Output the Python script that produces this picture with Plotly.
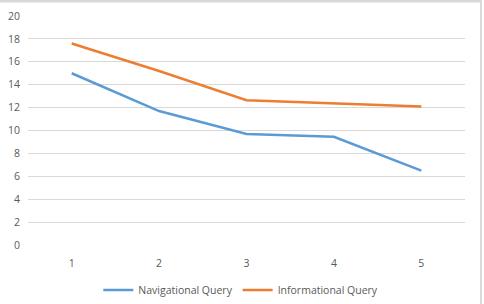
import plotly.graph_objects as go

categories = [1, 2, 3, 4, 5]
navigational = [15.0, 11.7, 9.7, 9.45, 6.5]
informational = [17.6, 15.2, 12.65, 12.35, 12.1]
y_ticks = [0, 2, 4, 6, 8, 10, 12, 14, 16, 18, 20]

fig = go.Figure()
fig.add_trace(go.Scatter(x=categories, y=navigational, mode="lines", name="Navigational Query",
                         line=dict(color="#5B9BD5", width=2.5)))
fig.add_trace(go.Scatter(x=categories, y=informational, mode="lines", name="Informational Query",
                         line=dict(color="#ED7D31", width=2.5)))

fig.update_layout(
    width=484, height=304,
    margin=dict(l=28, r=19, t=16, b=59, autoexpand=False),
    paper_bgcolor="white", plot_bgcolor="white",
    font=dict(family="Open Sans", size=10.5, color="#595959"),
    showlegend=True,
    legend=dict(orientation="h", x=0.487, xanchor="center", y=-0.197, yanchor="middle",
                font=dict(size=10.5, color="#595959"), itemwidth=30, tracegroupgap=0),
    xaxis=dict(range=[0.5, 5.5], tickvals=categories, ticktext=[str(c) for c in categories],
               showgrid=False, zeroline=False, showline=False, ticks="", ticklabelstandoff=10,
               automargin=False),
    yaxis=dict(range=[0, 20], tickvals=y_ticks, showgrid=True, gridcolor="#D9D9D9", gridwidth=1,
               zeroline=False, showline=False, ticks="", ticklabelstandoff=7, automargin=False),
)
# outer chart frame (top and right edges visible in the reference)
fig.add_shape(type="line", xref="paper", yref="paper", x0=-28/437, x1=1 + 15/437, y0=1 + 15/229, y1=1 + 15/229,
              line=dict(color="#D9D9D9", width=3))
fig.add_shape(type="line", xref="paper", yref="paper", x0=1 + 16/437, x1=1 + 16/437, y0=-59/229, y1=1 + 16/229,
              line=dict(color="#D9D9D9", width=2))

fig.write_html("out.html")
